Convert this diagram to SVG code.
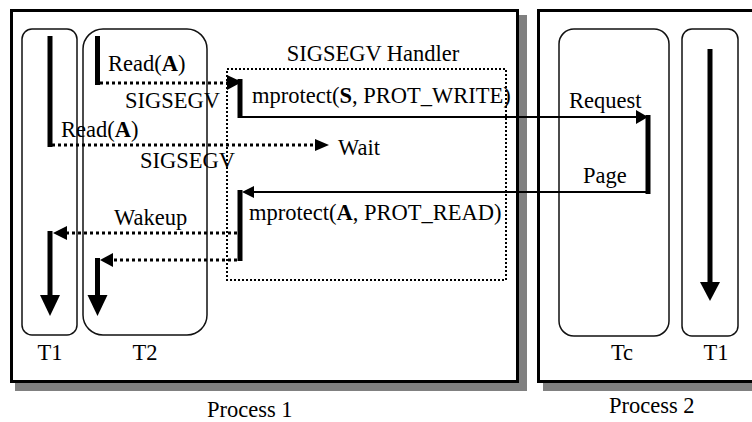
<svg xmlns="http://www.w3.org/2000/svg" width="752" height="422" viewBox="0 0 752 422">
<style>
text{font-family:"Liberation Serif","Times New Roman",serif;font-size:22.5px;fill:#000}
.b{font-weight:bold}
.proc{fill:#fff;stroke:#000;stroke-width:3}
.shadow{fill:#808080}
.thread{fill:none;stroke:#111;stroke-width:1.5}
.thick{stroke:#000;stroke-width:5;fill:none}
.dot{stroke:#000;stroke-width:3;stroke-dasharray:3 3;fill:none}
.thin{stroke:#000;stroke-width:1.8;fill:none}
.hd{fill:#000}
</style>
<g id="process1">
<rect class="shadow" x="15" y="15" width="512" height="376"/>
<rect class="proc" x="11.5" y="10.5" width="506" height="371"/>
<text x="207" y="417">Process 1</text>
</g>
<g id="process2">
<rect class="shadow" x="543" y="15" width="215" height="376"/>
<rect class="proc" x="538.5" y="10.5" width="230" height="371"/>
<text x="609" y="413">Process 2</text>
</g>
<g id="p1-t1">
<rect class="thread" x="22" y="29" width="55" height="306" rx="10"/>
<text x="50" y="360" text-anchor="middle">T1</text>
</g>
<g id="p1-t2">
<rect class="thread" x="83" y="29" width="124" height="306" rx="20"/>
<text x="145" y="360" text-anchor="middle">T2</text>
</g>
<g id="handler">
<rect x="227" y="69" width="279" height="211" fill="none" stroke="#000" stroke-width="2" stroke-dasharray="2 2"/>
<text x="373" y="61" text-anchor="middle">SIGSEGV Handler</text>
</g>
<g id="p2-tc">
<rect class="thread" x="559" y="29" width="110" height="307" rx="15"/>
<text x="622" y="360" text-anchor="middle">Tc</text>
</g>
<g id="p2-t1">
<rect class="thread" x="682" y="29" width="56" height="307" rx="10"/>
<text x="716" y="360" text-anchor="middle">T1</text>
</g>
<g id="connectors">
<line class="thick" x1="50" y1="36" x2="50" y2="147"/>
<line class="dot" x1="52" y1="145" x2="315" y2="145"/>
<polygon class="hd" points="315,139 329,145 315,151"/>
<line class="thick" x1="97.5" y1="36" x2="97.5" y2="85"/>
<line class="dot" x1="100" y1="83" x2="228" y2="83"/>
<polygon class="hd" points="227,75 242,82 227,90"/>
<line class="thick" x1="240" y1="79" x2="240" y2="118"/>
<line class="thin" x1="240" y1="117" x2="637" y2="117"/>
<polygon class="hd" points="636,110 648,117 636,124"/>
<line class="thick" x1="648" y1="115" x2="648" y2="194"/>
<line class="thin" x1="648" y1="192" x2="253" y2="192"/>
<polygon class="hd" points="254,186 242,192 254,198"/>
<line class="thick" x1="240" y1="190" x2="240" y2="261"/>
<line class="dot" x1="237" y1="233" x2="66" y2="233"/>
<polygon class="hd" points="67,226 53,233 67,240"/>
<line class="thick" x1="50" y1="231" x2="50" y2="297"/>
<polygon class="hd" points="40,295 60,295 50,316"/>
<line class="dot" x1="237" y1="260" x2="112" y2="260"/>
<polygon class="hd" points="113,253 100,260 113,267"/>
<line class="thick" x1="97.5" y1="258" x2="97.5" y2="297"/>
<polygon class="hd" points="87.5,295 107.5,295 97.5,316"/>
<line class="thick" x1="710" y1="49" x2="710" y2="284"/>
<polygon class="hd" points="700,282 720,282 710,301"/>
</g>
<g id="labels">
<text x="108" y="71">Read(<tspan class="b">A</tspan>)</text>
<text x="125" y="108">SIGSEGV</text>
<text x="61" y="137">Read(<tspan class="b">A</tspan>)</text>
<text x="140" y="168">SIGSEGV</text>
<text x="252" y="103">mprotect(<tspan class="b">S</tspan>, PROT_WRITE)</text>
<text x="338" y="155">Wait</text>
<text x="569" y="108">Request</text>
<text x="583" y="183">Page</text>
<text x="249" y="220">mprotect(<tspan class="b">A</tspan>, PROT_READ)</text>
<text x="114" y="225">Wakeup</text>
</g>
</svg>
